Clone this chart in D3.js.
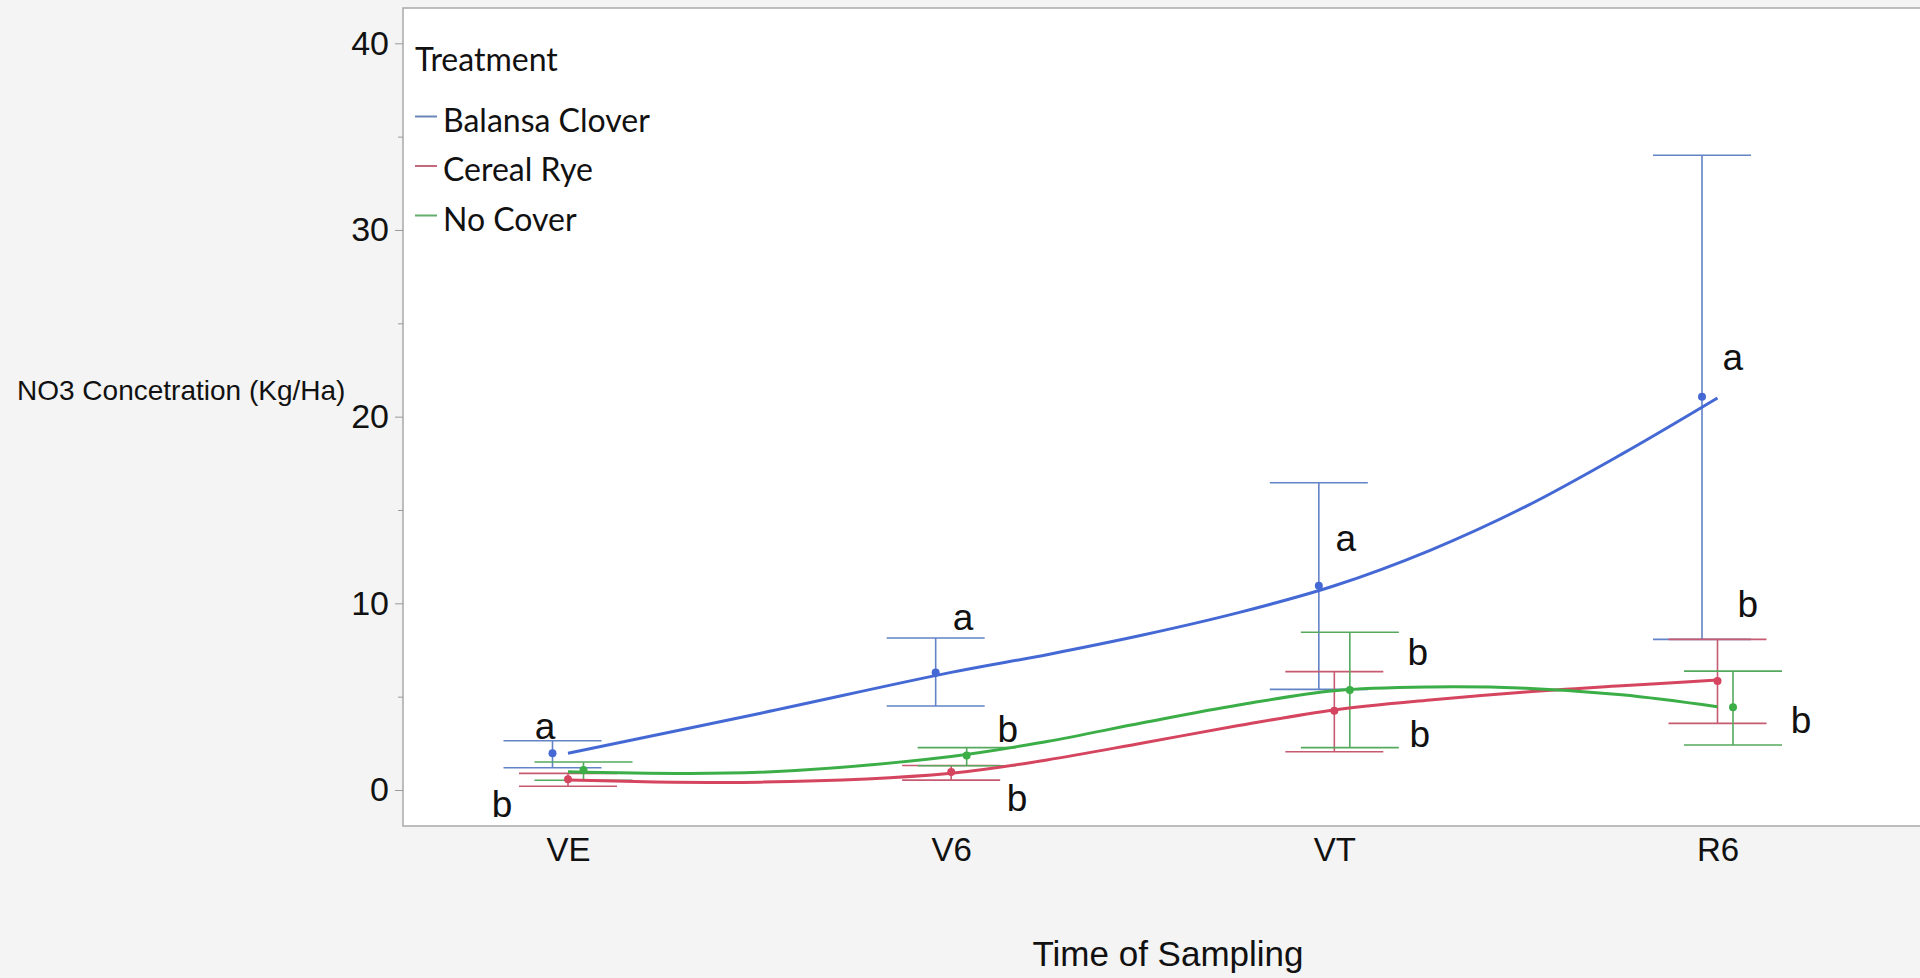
<!DOCTYPE html>
<html>
<head>
<meta charset="utf-8">
<script src="https://cdn.jsdelivr.net/npm/d3@7"></script>
<style>
  html, body { margin: 0; padding: 0; background: #f4f4f4; }
  svg { display: block; }
</style>
</head>
<body>
<svg id="chart" width="1920" height="978"></svg>
<script>
// Sampling stages
const categories = ["VE", "V6", "VT", "R6"];
const seriesNames = ["Balansa Clover", "Cereal Rye", "No Cover"];

// Mean NO3 (kg/ha) with interval bounds, per treatment and stage
const balansaMean  = [1.97, 6.3, 10.94, 21.07];
const balansaLower = [1.19, 4.5, 5.39, 8.07];
const balansaUpper = [2.64, 8.14, 16.46, 34.0];

const ryeMean  = [0.57, 0.97, 4.25, 5.84];
const ryeLower = [0.2, 0.53, 2.05, 3.57];
const ryeUpper = [0.89, 1.31, 6.34, 8.07];

const noCoverMean  = [1.07, 1.85, 5.36, 4.43];
const noCoverLower = [0.52, 1.3, 2.27, 2.41];
const noCoverUpper = [1.5, 2.27, 8.45, 6.37];

// Smoother fits, sampled along the stage axis (stage index)
const smoothAt      = [0, 0.5, 1, 1.25, 1.5, 1.75, 2, 2.25, 2.5, 2.75, 3];
const balansaSmooth = [1.97, 4.1, 6.3, 7.25, 8.3, 9.5, 10.94, 12.84, 15.19, 17.99, 21.0];
const ryeSmooth     = [0.54, 0.42, 0.9, 1.61, 2.52, 3.45, 4.29, 4.82, 5.25, 5.58, 5.89];
const noCoverSmooth = [0.98, 0.95, 1.8, 2.6, 3.6, 4.55, 5.32, 5.52, 5.45, 5.1, 4.46];

// Significance letters: anchor (stage index, value) and letter
const letterX     = [-0.06, -0.172, 1.031, 1.148, 1.172, 2.03, 2.218, 2.223, 3.04, 3.079, 3.218];
const letterY     = [2.73, -1.45, 8.57, 2.57, -1.12, 12.8, 6.7, 2.3, 22.5, 9.27, 3.05];
const letterText  = ["a", "b", "a", "b", "b", "a", "b", "b", "a", "b", "b"];

const yTicks = [0, 10, 20, 30, 40];
const yMinorTicks = [5, 15, 25, 35];

const lineColors = ["#4569d4", "#d6455f", "#3cae47"];
const barColors  = ["#6283c6", "#c65a70", "#55a95c"];
const keyColors  = ["#6a86b8", "#c4697c", "#62ad6c"];

const series = [
  { name: seriesNames[0], mean: balansaMean, lower: balansaLower, upper: balansaUpper, smooth: balansaSmooth, dodge: -15.5 },
  { name: seriesNames[1], mean: ryeMean, lower: ryeLower, upper: ryeUpper, smooth: ryeSmooth, dodge: 0 },
  { name: seriesNames[2], mean: noCoverMean, lower: noCoverLower, upper: noCoverUpper, smooth: noCoverSmooth, dodge: 15.5 }
];

const svg = d3.select("#chart");
const frame = { left: 403, top: 8, right: 1933, bottom: 826 };

const x = d3.scaleLinear().domain([0, 3]).range([568, 1717.5]);
const y = d3.scaleLinear().domain([0, 40]).range([790, 43.3]);

const axisFont = "'Liberation Sans', Arial, sans-serif";
const legendFont = "Lato, 'Open Sans', sans-serif";

// Plot frame
svg.append("rect")
  .attr("x", frame.left).attr("y", frame.top)
  .attr("width", frame.right - frame.left).attr("height", frame.bottom - frame.top)
  .attr("fill", "#ffffff").attr("stroke", "#a9a9a9").attr("stroke-width", 1.5);

// Y axis
const yAxis = svg.append("g").attr("transform", `translate(${frame.left},0)`)
  .call(d3.axisLeft(y).tickValues(yTicks).tickSize(8).tickPadding(6).tickFormat(d3.format("d")));
yAxis.select(".domain").remove();
yAxis.selectAll(".tick line").attr("stroke", "#9a9a9a");
yAxis.selectAll(".tick text").attr("font-family", axisFont).attr("font-size", 34).attr("fill", "#111");

const yMinor = svg.append("g").attr("transform", `translate(${frame.left},0)`)
  .call(d3.axisLeft(y).tickValues(yMinorTicks).tickSize(5).tickFormat(""));
yMinor.select(".domain").remove();
yMinor.selectAll(".tick line").attr("stroke", "#9a9a9a");

// X axis
const xAxis = svg.append("g").attr("transform", `translate(0,${frame.bottom})`)
  .call(d3.axisBottom(x).tickValues([0, 1, 2, 3]).tickSize(0).tickPadding(12).tickFormat(i => categories[i]));
xAxis.select(".domain").remove();
xAxis.selectAll(".tick text").attr("font-family", axisFont).attr("font-size", 33).attr("fill", "#111");

// Axis titles
svg.append("text")
  .attr("x", 17).attr("y", 400)
  .attr("font-family", axisFont).attr("font-size", 28).attr("fill", "#111")
  .text("NO3 Concetration (Kg/Ha)");

svg.append("text")
  .attr("x", 1168).attr("y", 966).attr("text-anchor", "middle")
  .attr("font-family", axisFont).attr("font-size", 35).attr("fill", "#111")
  .text("Time of Sampling");

const plot = svg.append("g");

// Error bars
series.forEach((s, si) => {
  const g = plot.append("g").attr("stroke", barColors[si]).attr("stroke-width", 1.6).attr("fill", "none");
  categories.forEach((c, i) => {
    const cx = x(i) + s.dodge;
    g.append("line").attr("x1", cx).attr("x2", cx).attr("y1", y(s.lower[i])).attr("y2", y(s.upper[i]));
    g.append("line").attr("x1", cx - 49).attr("x2", cx + 49).attr("y1", y(s.lower[i])).attr("y2", y(s.lower[i]));
    g.append("line").attr("x1", cx - 49).attr("x2", cx + 49).attr("y1", y(s.upper[i])).attr("y2", y(s.upper[i]));
  });
});

// Smoother curves
const smoothLine = d3.line()
  .x(d => x(d[0])).y(d => y(d[1]))
  .curve(d3.curveCatmullRom.alpha(0.5));

series.forEach((s, si) => {
  plot.append("path")
    .datum(smoothAt.map((t, k) => [t, s.smooth[k]]))
    .attr("d", smoothLine)
    .attr("fill", "none")
    .attr("stroke", lineColors[si])
    .attr("stroke-width", 3);
});

// Mean points
series.forEach((s, si) => {
  plot.append("g").selectAll("circle")
    .data(s.mean)
    .join("circle")
    .attr("cx", (d, i) => x(i) + s.dodge)
    .attr("cy", d => y(d))
    .attr("r", 4)
    .attr("fill", lineColors[si]);
});

// Significance letters
plot.append("g").selectAll("text")
  .data(letterText)
  .join("text")
  .attr("x", (d, k) => x(letterX[k]))
  .attr("y", (d, k) => y(letterY[k]))
  .attr("text-anchor", "middle")
  .attr("font-family", axisFont)
  .attr("font-size", 37)
  .attr("fill", "#111")
  .text(d => d);

// Legend
const legend = svg.append("g").attr("font-family", legendFont).attr("fill", "#111");
legend.append("text").attr("x", 415).attr("y", 71).attr("font-size", 32).text("Treatment");
seriesNames.forEach((name, si) => {
  const base = 131.5 + si * 49.5;
  legend.append("line")
    .attr("x1", 415).attr("x2", 437)
    .attr("y1", base - 15).attr("y2", base - 15)
    .attr("stroke", keyColors[si]).attr("stroke-width", 2);
  legend.append("text").attr("x", 443).attr("y", base).attr("font-size", 32).text(name);
});
</script>
</body>
</html>
